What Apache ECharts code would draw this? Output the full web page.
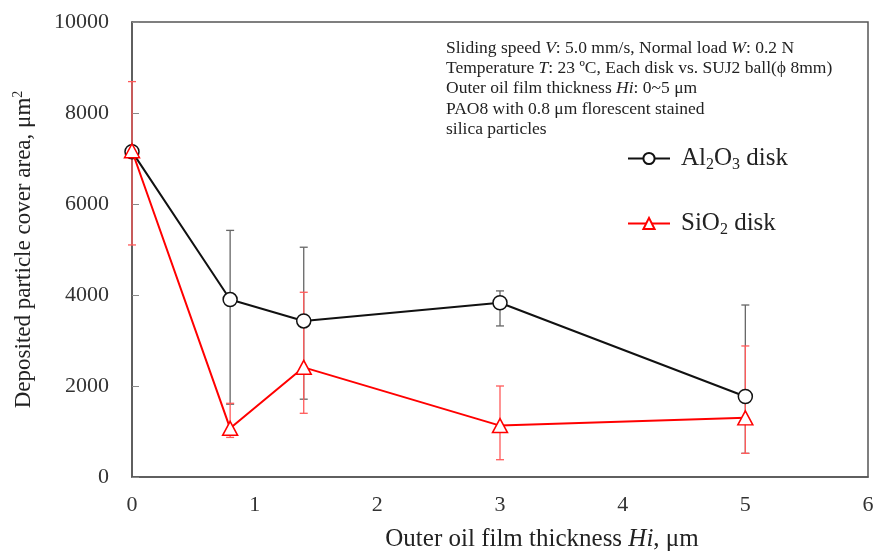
<!DOCTYPE html>
<html>
<head>
<meta charset="utf-8">
<script src="https://cdn.jsdelivr.net/npm/echarts@6/dist/echarts.min.js"></script>
<style>
  html, body { margin: 0; padding: 0; background: #fff; }
  #chart { width: 875px; height: 554px; }
</style>
</head>
<body>
<div id="chart"></div>
<script>
var thickness = [0, 0.8, 1.4, 3, 5];

var al2o3_area = [7150, 3900, 3430, 3830, 1770];
var al2o3_low = [null, 1600, 1710, 3320, 520];
var al2o3_high = [null, 5420, 5050, 4090, 3780];

var sio2_area = [7170, 1070, 2410, 1130, 1300];
var sio2_low = [5100, 870, 1400, 380, 520];
var sio2_high = [8690, 1620, 4060, 2000, 2880];

var yTicks = [0, 2000, 4000, 6000, 8000, 10000];
var xTicks = [0, 1, 2, 3, 4, 5, 6];

var notes = [
  "Sliding speed {i|V}: 5.0 mm/s, Normal load {i|W}: 0.2 N",
  "Temperature {i|T}: 23 \u00baC, Each disk vs. SUJ2 ball(\u03d5 8mm)",
  "Outer oil film thickness {i|Hi}: 0~5 \u03bcm",
  "PAO8 with 0.8 \u03bcm florescent stained",
  "silica particles"
];

var font = "'Liberation Serif', 'Times New Roman', serif";

function errData(low, high) {
  var out = [];
  thickness.forEach(function (x, i) {
    if (low[i] != null) out.push([x, low[i], high[i]]);
  });
  return out;
}

function errSeries(low, high, color) {
  return {
    type: "custom",
    data: errData(low, high),
    z: 1,
    silent: true,
    renderItem: function (params, api) {
      var lo = api.coord([api.value(0), api.value(1)]);
      var hi = api.coord([api.value(0), api.value(2)]);
      var w = 4;
      var st = { stroke: color, lineWidth: 1.3 };
      return {
        type: "group",
        children: [
          { type: "line", shape: { x1: lo[0], y1: lo[1], x2: hi[0], y2: hi[1] }, style: st },
          { type: "line", shape: { x1: lo[0] - w, y1: lo[1], x2: lo[0] + w, y2: lo[1] }, style: st },
          { type: "line", shape: { x1: hi[0] - w, y1: hi[1], x2: hi[0] + w, y2: hi[1] }, style: st }
        ]
      };
    },
    encode: { x: 0, y: [1, 2] }
  };
}

var chart = echarts.init(document.getElementById("chart"));

var option = {
  backgroundColor: "#fff",
  animation: false,
  textStyle: { fontFamily: font },
  grid: {
    left: 132, right: 7, top: 22, bottom: 77,
    outerBoundsMode: "none",
    containLabel: false,
    show: true, borderColor: "#555", borderWidth: 1.5
  },
  xAxis: {
    type: "value",
    min: xTicks[0], max: xTicks[xTicks.length - 1], interval: 1,
    splitLine: { show: false },
    axisLine: { show: true, lineStyle: { color: "#555", width: 1.5 } },
    axisTick: { show: false },
    axisLabel: { fontSize: 22, color: "#333", margin: 17, fontFamily: font },
    name: "Outer oil film thickness {i|Hi}, \u03bcm",
    nameLocation: "middle",
    nameGap: 50,
    nameTextStyle: {
      fontSize: 25, color: "#222", fontFamily: font, padding: [0, 0, 0, 84],
      rich: { i: { fontSize: 25, fontStyle: "italic", color: "#222", fontFamily: font } }
    }
  },
  yAxis: {
    type: "value",
    min: yTicks[0], max: yTicks[yTicks.length - 1], interval: 2000,
    splitLine: { show: false },
    axisLine: { show: true, lineStyle: { color: "#555", width: 1.5 } },
    axisTick: { show: true, inside: true, length: 7, lineStyle: { color: "#888", width: 1 } },
    axisLabel: {
      fontSize: 22, color: "#333", margin: 23, fontFamily: font,
      formatter: function (v) { return String(v); }
    },
    name: "Deposited particle cover area, \u03bcm{s|2}",
    nameLocation: "middle",
    nameGap: 96,
    nameTextStyle: {
      fontSize: 23, color: "#222", fontFamily: font,
      rich: { s: { fontSize: 14, color: "#222", fontFamily: font, padding: [0, 0, 11, 0] } }
    }
  },
  legend: {
    orient: "vertical",
    left: 622, top: 141,
    itemGap: 38,
    itemWidth: 42,
    itemHeight: 14,
    data: ["Al2O3 disk", "SiO2 disk"],
    formatter: function (name) {
      return name === "Al2O3 disk"
        ? "Al{b|2}O{b|3} disk"
        : "SiO{b|2} disk";
    },
    textStyle: {
      fontSize: 25, color: "#222", fontFamily: font, padding: [0, 0, 0, 6],
      rich: { b: { fontSize: 16, color: "#222", fontFamily: font, padding: [13, 0, 0, 0] } }
    }
  },
  graphic: [{
    type: "text",
    left: 446, top: 38,
    style: {
      text: notes.join("\n"),
      font: "17.5px " + font,
      fill: "#222",
      lineHeight: 20.3,
      rich: { i: { fontStyle: "italic", fontSize: 17.5, fontFamily: font, fill: "#222", lineHeight: 20.3 } }
    }
  }],
  series: [
    errSeries(al2o3_low, al2o3_high, "#666"),
    errSeries(sio2_low, sio2_high, "#ff5a5a"),
    {
      name: "Al2O3 disk",
      type: "line",
      z: 3,
      data: thickness.map(function (x, i) { return [x, al2o3_area[i]]; }),
      symbol: "circle",
      symbolSize: 14,
      lineStyle: { color: "#111", width: 2 },
      itemStyle: { color: "#fff", borderColor: "#111", borderWidth: 1.5 }
    },
    {
      name: "SiO2 disk",
      type: "line",
      z: 4,
      data: thickness.map(function (x, i) { return [x, sio2_area[i]]; }),
      symbol: "triangle",
      symbolSize: [15, 14],
      lineStyle: { color: "#ff0000", width: 2 },
      itemStyle: { color: "#fff", borderColor: "#ff0000", borderWidth: 1.5 }
    }
  ]
};

chart.setOption(option);
</script>
</body>
</html>
